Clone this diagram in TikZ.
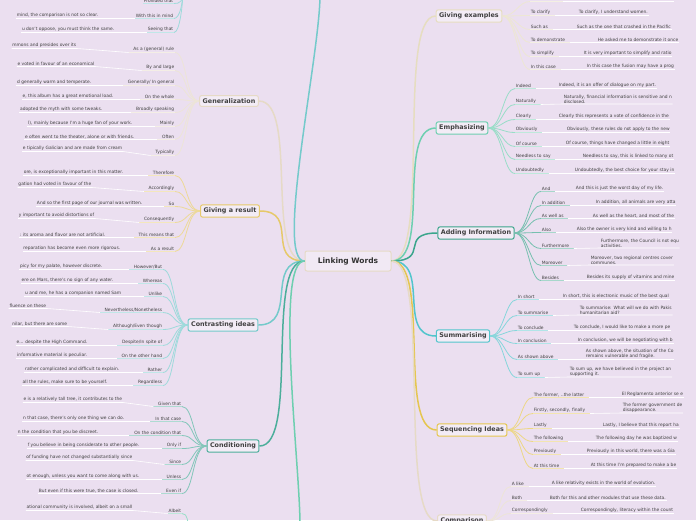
\documentclass[tikz,border=0pt]{standalone}
\usepackage{fontspec}
\setmainfont{DejaVu Sans}
\begin{document}
\begin{tikzpicture}[x=1pt,y=-1pt,
 lab/.style={font=\fontsize{4.4}{5}\selectfont,text=black!75,inner sep=0.6pt},
 sent/.style={font=\fontsize{4.4}{5}\selectfont,text=black!75,inner sep=0.6pt,align=left},
 topic/.style={draw=#1,line width=1pt,rounded corners=2pt,fill=white!40!bg,font=\bfseries\fontsize{6.4}{7}\selectfont,text=black!75,inner sep=3pt},
 con/.style={draw=#1!70,line width=0.8pt},
 ul/.style={draw=#1!45,line width=0.6pt},
 main/.style={draw=#1,line width=1.5pt}]
\definecolor{bg}{HTML}{EBDFF0}
\definecolor{cgen}{HTML}{E6DAC6}
\definecolor{cres}{HTML}{E6C96A}
\definecolor{ccon}{HTML}{74CACB}
\definecolor{ccond}{HTML}{4CAE9B}
\definecolor{cex}{HTML}{E6DDC0}
\definecolor{cemp}{HTML}{6ECFB0}
\definecolor{cadd}{HTML}{3BA58C}
\definecolor{csum}{HTML}{52C5CC}
\definecolor{cseq}{HTML}{E5C650}
\definecolor{cmp}{HTML}{E6DAC6}
\fill[bg] (0,0) rectangle (696,520);
\useasboundingbox (0,0) rectangle (696,520);
\clip (0,0) rectangle (696,520);
% #1 topic #2 name #3 label-y #4 label #5 sent-y #6 sentence #7 sent end x #8 colour ; label end x = \lx
\newcommand\LL[8]{%
 \node[lab,anchor=south east] (#2) at (\lx,#3+2.5) {#4};
 \node[sent,anchor=south east] (#2s) at (#7,#5+2.5) {#6};
 \draw[con=#8] (#1.west) .. controls +(-14,0) and +(12,0) .. (#2.south east);
 \draw[ul=#8] (#2.south east) -- (#2.south west) -- ([xshift=-4pt]#2.south west);
 \draw[ul=white] ([xshift=-4pt]#2.south west) -- (#2s.south east) -- (#2s.south west);}
\newcommand\RL[8]{%
 \node[lab,anchor=south west] (#2) at (\lx,#3+2.5) {#4};
 \node[sent,anchor=south west] (#2s) at (#7,#5+2.5) {#6};
 \draw[con=#8] (#1.east) .. controls +(14,0) and +(-12,0) .. (#2.south west);
 \draw[ul=#8] (#2.south west) -- (#2.south east) -- ([xshift=4pt]#2.south east);
 \draw[ul=white] ([xshift=4pt]#2.south east) -- (#2s.south west) -- (#2s.south east);}

\node[draw=cgen,line width=1pt,rounded corners=2pt,fill=white!30!bg,font=\bfseries\fontsize{7.5}{8}\selectfont,text=black!80,minimum width=86pt,minimum height=20pt] (c) at (348,261) {Linking Words};

% topics
\node[topic=cgen] (gen) at (229,101) {Generalization};
\node[topic=cres] (res) at (230,211) {Giving a result};
\node[topic=ccon] (cont) at (223,325) {Contrasting ideas};
\node[topic=ccond] (cond) at (233,446) {Conditioning};
\node[topic=cex] (ex) at (469,16) {Giving examples};
\node[topic=cemp] (emp) at (462,128) {Emphasizing};
\node[topic=cadd] (add) at (476,233) {Adding Information};
\node[topic=csum] (sum) at (463,336) {Summarising};
\node[topic=cseq] (seq) at (472,430) {Sequencing Ideas};
\node[topic=cmp] (cmp) at (462,521) {Comparison};
\coordinate (topoff) at (185,-40);
\coordinate (botoff) at (190,560);

\foreach \t/\cc in {gen/cgen,res/cres,cont/ccon,cond/ccond}
 \draw[main=\cc] (c.west) .. controls +(-40,0) and +(40,0) .. (\t.east);
\foreach \t/\cc in {ex/cex,emp/cemp,add/cadd,sum/csum,seq/cseq,cmp/cmp}
 \draw[main=\cc] (c.east) .. controls +(40,0) and +(-40,0) .. (\t.west);
\draw[main=ccon] (c.west) .. controls +(-30,0) and +(0,60) .. (320,-5);
\draw[main=cemp] (c.west) .. controls +(-30,0) and +(0,-60) .. (300,525);

% top off-screen branch
\def\lx{174}
\node[lab,anchor=south east] (pt) at (\lx,3.5) {Provided that};
\node[lab,anchor=south east] (wm) at (\lx,18.5) {With this in mind};
\node[sent,anchor=south east] (wms) at (99,18.5) {mind, the comparison is not so clear.};
\node[lab,anchor=south east] (st) at (\lx,32.5) {Seeing that};
\node[sent,anchor=south east] (sts) at (115,32.5) {u don’t oppose, you must think the same.};
\foreach \n in {pt,wm,st}
 \draw[con=ccon] (\n.south east) .. controls +(6,0) and +(0,12) .. (183,-10);
\draw[ul=ccon] (pt.south east) -- (pt.south west);
\draw[ul=ccon] (wm.south east) -- (wm.south west);\draw[ul=white] (wm.south west) -- (wms.south east) -- (wms.south west);
\draw[ul=ccon] (st.south east) -- (st.south west);\draw[ul=white] (st.south west) -- (sts.south east) -- (sts.south west);

% Generalization
\def\lx{175}
\LL{gen}{g1}{50}{As a (general) rule}{46}{mmons and presides over its}{77}{cgen}
\LL{gen}{g2}{68}{By and large}{64}{e voted in favour of an economical}{95}{cgen}
\LL{gen}{g3}{83}{Generally/ In general}{83}{d generally warm and temperate.}{92}{cgen}
\LL{gen}{g4}{97}{On the whole}{97}{e, this album has a great emotional load.}{114}{cgen}
\LL{gen}{g5}{110}{Broadly speaking}{110}{adopted the myth with some tweaks.}{103}{cgen}
\LL{gen}{g6}{124}{Mainly}{124}{l), mainly because I’m a huge fan of your work.}{133}{cgen}
\LL{gen}{g7}{137}{Often}{137}{e often went to the theater, alone or with friends.}{135}{cgen}
\LL{gen}{g8}{153}{Typically}{149}{e tipically Galician and are made from cream}{123}{cgen}
% Giving a result
\LL{res}{r1}{173}{Therefore}{173}{ore, is exceptionally important in this matter.}{124}{cres}
\LL{res}{r2}{189}{Accordingly}{185}{gation had voted in favour of the}{92}{cres}
\LL{res}{r3}{204}{So}{204}{And so the first page of our journal was written.}{143}{cres}
\LL{res}{r4}{220}{Consequently}{216}{y important to avoid distortions of}{95}{cres}
\LL{res}{r5}{235}{This means that}{235}{: its aroma and flavor are not artificial.}{106}{cres}
\LL{res}{r6}{249}{As a result}{249}{reparation has become even more rigorous.}{121}{cres}
% Contrasting
\def\lx{163}
\LL{cont}{k1}{267}{However/But}{267}{picy for my palate, however discrete.}{103}{ccon}
\LL{cont}{k2}{281}{Whereas}{281}{ere on Mars, there’s no sign of any water.}{114}{ccon}
\LL{cont}{k3}{294}{Unlike}{294}{u and me, he has a companion named Sam}{122}{ccon}
\LL{cont}{k4}{310}{Nevertheless/Nonetheless}{306}{fluence on these}{47}{ccon}
\LL{cont}{k5}{327}{Although/Even though}{324}{nilar, but there are some}{68}{ccon}
\LL{cont}{k6}{343}{Despite/In spite of}{343}{e... despite the High Command.}{88}{ccon}
\LL{cont}{k7}{356}{On the other hand}{356}{informative material is peculiar.}{88}{ccon}
\LL{cont}{k8}{370}{Rather}{370}{rather complicated and difficult to explain.}{120}{ccon}
\LL{cont}{k9}{383}{Regardless}{383}{all the rules, make sure to be yourself.}{108}{ccon}
% Conditioning
\def\lx{182}
\LL{cond}{d1}{404}{Given that}{400}{e is a relatively tall tree, it contributes to the}{123}{ccond}
\LL{cond}{d2}{419}{In that case}{419}{n that case, there’s only one thing we can do.}{125}{ccond}
\LL{cond}{d3}{433}{On the condition that}{433}{n the condition that you be discreet.}{99}{ccond}
\LL{cond}{d4}{446}{Only if}{446}{f you believe in being considerate to other people.}{140}{ccond}
\LL{cond}{d5}{462}{Since}{458}{of funding have not changed substantially since}{133}{ccond}
\LL{cond}{d6}{477}{Unless}{477}{ot enough, unless you want to come along with us.}{140}{ccond}
\LL{cond}{d7}{491}{Even if}{491}{But even if this were true, the case is closed.}{139}{ccond}
\node[lab,anchor=south east] (al) at (\lx,513.5) {Albeit};
\node[sent,anchor=south east] (als) at (133,510.5) {ational community is involved, albeit on a small};
\draw[con=cemp] (al.south east) .. controls +(6,0) and +(0,-8) .. (188,530);
\draw[ul=cemp] (al.south east) -- (al.south west);\draw[ul=white] (al.south west) -- (als.south east) -- (als.south west);

% Giving examples
\def\lx{530}
\RL{ex}{e0}{-1}{For example}{-1}{For example, the car of a person can b}{587}{cex}
\RL{ex}{e1}{13}{To clarify}{13}{To clarify, I understand women.}{578}{cex}
\RL{ex}{e2}{27}{Such as}{27}{Such as the one that crashed in the Pacific}{576}{cex}
\RL{ex}{e3}{40}{To demonstrate}{40}{He asked me to demonstrate it once}{597}{cex}
\RL{ex}{e4}{54}{To simplify}{54}{It is very important to simplify and ratio}{583}{cex}
\RL{ex}{e5}{67}{In this case}{67}{In this case the fusion may have a prog}{586}{cex}
% Emphasizing
\def\lx{515}
\RL{emp}{m1}{86}{Indeed}{86}{Indeed, it is an offer of dialogue on my part.}{558}{cemp}
\RL{emp}{m2}{102}{Naturally}{101.5}{Naturally, financial information is sensitive and n\\disclosed.}{563}{cemp}
\RL{emp}{m3}{117}{Clearly}{117}{Clearly this represents a vote of confidence in the}{558}{cemp}
\RL{emp}{m4}{130}{Obviously}{130}{Obviously, these rules do not apply to the new}{566}{cemp}
\RL{emp}{m5}{144}{Of course}{144}{Of course, things have changed a little in eight}{565}{cemp}
\RL{emp}{m6}{157}{Needless to say}{157}{Needless to say, this is linked to many ot}{582}{cemp}
\RL{emp}{m7}{171}{Undoubtedly}{171}{Undoubtedly, the best choice for your stay in}{574}{cemp}
% Adding information
\def\lx{541}
\RL{add}{a1}{189}{And}{189}{And this is just the worst day of my life.}{575}{cadd}
\RL{add}{a2}{203}{In addition}{203}{In addition, all animals are very atta}{595}{cadd}
\RL{add}{a3}{216}{As well as}{216}{As well as the heart, and most of the}{592}{cadd}
\RL{add}{a4}{230}{Also}{230}{Also the owner is very kind and willing to h}{576}{cadd}
\RL{add}{a5}{246}{Furthermore}{245.5}{Furthermore, the Council is not equ\\activities.}{600}{cadd}
\RL{add}{a6}{263}{Moreover}{262.5}{Moreover, two regional centres cover\\communes.}{590}{cadd}
\RL{add}{a7}{278}{Besides}{278}{Besides its supply of vitamins and mine}{586}{cadd}
% Summarising
\def\lx{517}
\RL{sum}{s1}{297}{In short}{297}{In short, this is electronic music of the best qual}{562}{csum}
\RL{sum}{s2}{313}{To summarise}{312.5}{To summarise: What will we do with Pakis\\humanitarian aid?}{579}{csum}
\RL{sum}{s3}{328}{To conclude}{328}{To conclude, I would like to make a more pe}{573}{csum}
\RL{sum}{s4}{341}{In conclusion}{341}{In conclusion, we will be negotiating with b}{577}{csum}
\RL{sum}{s5}{357}{As shown above}{357}{As shown above, the situation of the Co\\remains vulnerable and fragile.}{585}{csum}
\RL{sum}{s6}{375}{To sum up}{374.5}{To sum up, we have believed in the project an\\supporting it.}{569}{csum}
% Sequencing
\def\lx{533}
\RL{seq}{q1}{395}{The former, ..the latter}{395}{El Reglamento anterior se e}{621}{cseq}
\RL{seq}{q2}{411}{Firstly, secondly, finally}{410.5}{The former government de\\disappearance.}{622}{cseq}
\RL{seq}{q3}{426}{Lastly}{426}{Lastly, I believe that this report ha}{602}{cseq}
\RL{seq}{q4}{439}{The following}{439}{The following day he was baptized w}{595}{cseq}
\RL{seq}{q5}{452}{Previously}{452}{Previously in this world, there was a Gia}{586}{cseq}
\RL{seq}{q6}{466}{At this time}{466}{At this time I’m prepared to make a be}{590}{cseq}
% Comparison
\def\lx{511}
\RL{cmp}{p1}{484}{A like}{484}{A like relativity exists in the world of evolution.}{551}{cmp}
\RL{cmp}{p2}{498}{Both}{498}{Both for this and other modules that use these data.}{549}{cmp}
\RL{cmp}{p3}{511}{Correspondingly}{511}{Correspondingly, literacy within the count}{580}{cmp}
\end{tikzpicture}
\end{document}
